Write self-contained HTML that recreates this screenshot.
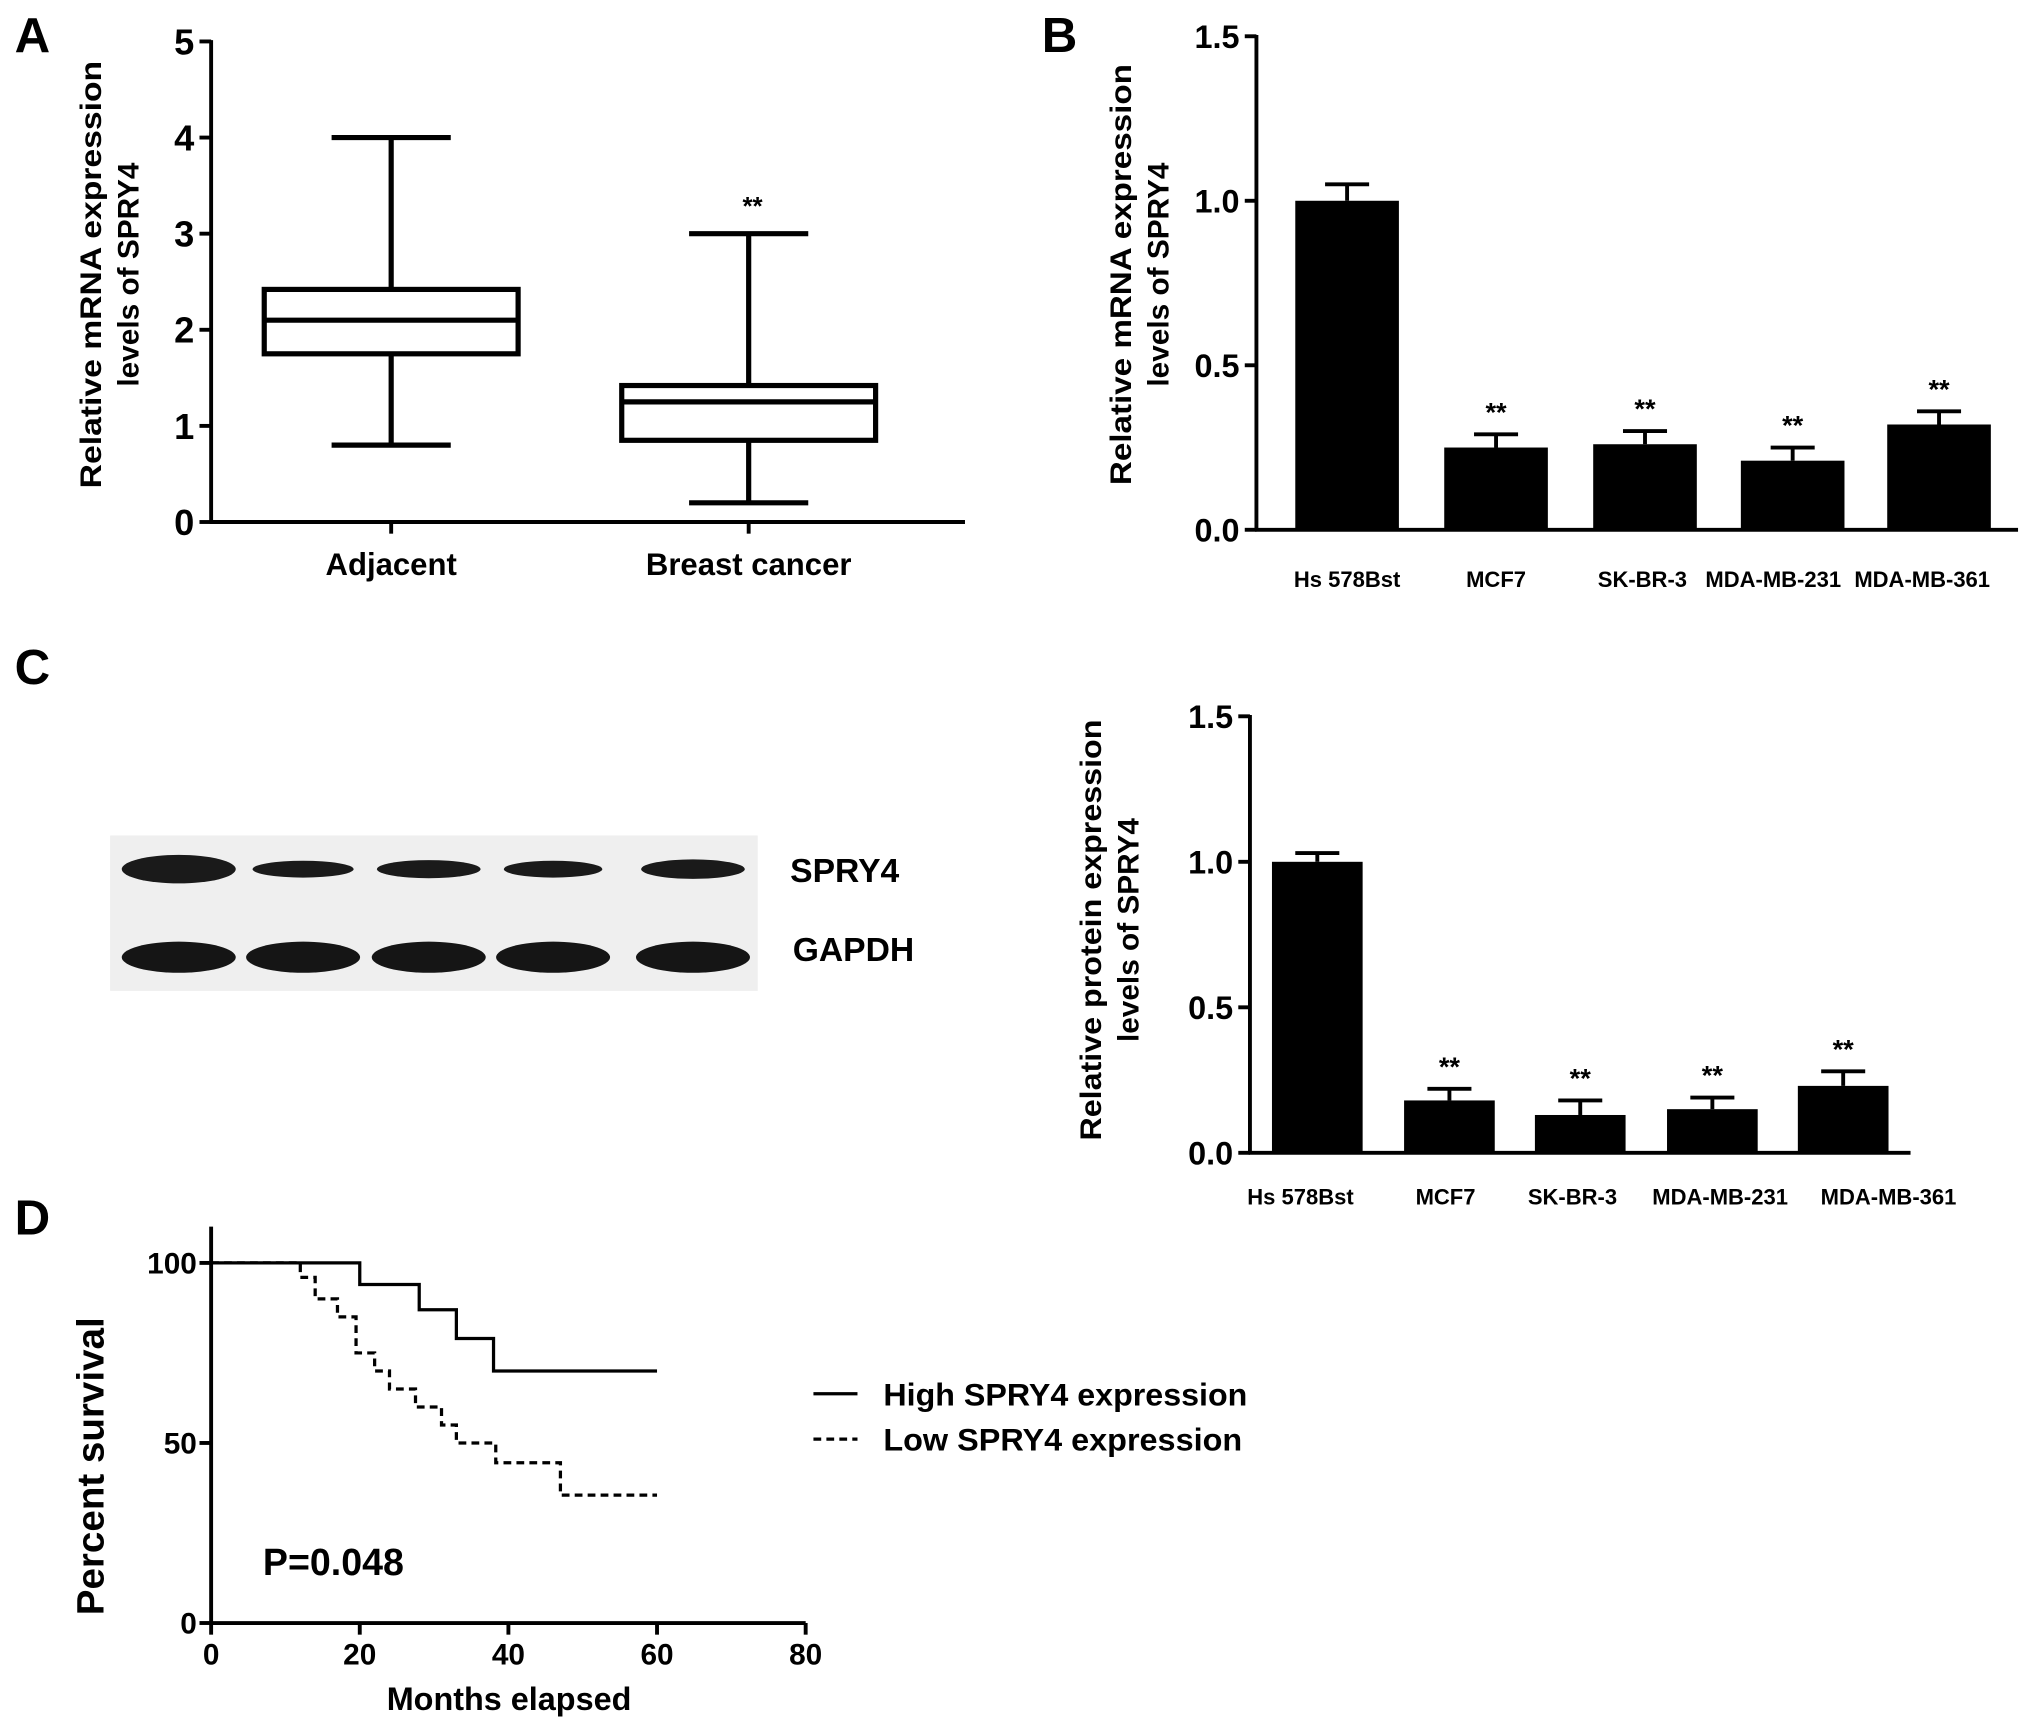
<!DOCTYPE html>
<html><head><meta charset="utf-8"><style>
html,body{margin:0;padding:0;background:#fff;}
svg{display:block;font-family:"Liberation Sans",Arial,sans-serif;font-weight:bold;}
</style></head><body>
<svg id="fig" width="2031" height="1730" viewBox="0 0 1568 1335.6" preserveAspectRatio="none"></svg>
<script>
// ---- Panel A data ----
const boxCats = ["Adjacent", "Breast cancer"];
const boxMin = [0.8, 0.2];
const boxQ1 = [1.75, 0.85];
const boxMed = [2.1, 1.25];
const boxQ3 = [2.42, 1.42];
const boxMax = [4.0, 3.0];
const boxTicks = [0, 1, 2, 3, 4, 5];
// ---- Panel B data ----
const cellLines = ["Hs 578Bst", "MCF7", "SK-BR-3", "MDA-MB-231", "MDA-MB-361"];
const mrnaVals = [1.0, 0.25, 0.26, 0.21, 0.32];
const mrnaErr = [0.05, 0.04, 0.04, 0.04, 0.04];
const barTicks = ["0.0", "0.5", "1.0", "1.5"];
// ---- Panel C data ----
const protVals = [1.0, 0.18, 0.13, 0.15, 0.23];
const protErr = [0.03, 0.04, 0.05, 0.04, 0.05];
// ---- Panel D data ----
const highT = [0, 20, 28, 33, 38, 60];
const highS = [100, 94, 87, 79, 70, 70];
const lowT = [0, 12, 14, 17, 19.5, 22, 24, 27.5, 31, 33, 38.3, 47, 60];
const lowS = [100, 96, 90, 85, 75, 70, 65, 60, 55, 50, 44.5, 35.5, 35.5];
const kmXTicks = [0, 20, 40, 60, 80];
const kmYTicks = [0, 50, 100];

const NS = "http://www.w3.org/2000/svg";
const svg = document.getElementById("fig");
function el(tag, attrs, parent) {
  const e = document.createElementNS(NS, tag);
  for (const k in attrs) e.setAttribute(k, attrs[k]);
  (parent || svg).appendChild(e);
  return e;
}
function txt(s, x, y, size, anchor, parent, rot, len) {
  const t = el("text", {x: x, y: y, "font-size": size, "text-anchor": anchor || "middle", fill: "#000"}, parent);
  if (rot) t.setAttribute("transform", "rotate(-90 " + x + " " + y + ")");
  if (len) { t.setAttribute("textLength", len); t.setAttribute("lengthAdjust", "spacingAndGlyphs"); }
  t.textContent = s;
  return t;
}
function line(x1, y1, x2, y2, w, parent, dash) {
  const l = el("line", {x1: x1, y1: y1, x2: x2, y2: y2, stroke: "#000", "stroke-width": w || 3}, parent);
  if (dash) l.setAttribute("stroke-dasharray", dash);
  return l;
}

[["A", 25, 40], ["B", 818, 40], ["C", 25, 528], ["D", 25, 953]].forEach(p => {
  const t = txt(p[0], p[1], p[2], 38, "middle");
  
  
});

// ===== Panel A =====
(function () {
  const g = el("g", {});
  
  
  const x0 = 163, y0 = 403, yTop = 32, xEnd = 745;
  const ys = v => y0 - (v / 5) * (y0 - yTop);
  const centers = [302, 578];
  line(x0, yTop - 1, x0, y0 + 1, 3, g);
  line(x0 - 1, y0, xEnd, y0, 3, g);
  boxTicks.forEach(v => {
    line(x0 - 9, ys(v), x0, ys(v), 3, g);
    const t = txt(String(v), x0 - 13, ys(v) + 10, 28, "end", g);
    
    
  });
  const yt = el("g", {}, g);
  
  
  txt("Relative mRNA expression", 78, 212, 23, "middle", yt, true, 330);
  txt("levels of SPRY4", 107, 212, 23, "middle", yt, true);
  boxCats.forEach((c, i) => {
    const cx = centers[i], hw = 98, cw = 46;
    const b = el("g", {}, g);
    
    
    line(cx, ys(boxMax[i]), cx, ys(boxQ3[i]), 4, b);
    line(cx, ys(boxQ1[i]), cx, ys(boxMin[i]), 4, b);
    line(cx - cw, ys(boxMax[i]), cx + cw, ys(boxMax[i]), 4, b);
    line(cx - cw, ys(boxMin[i]), cx + cw, ys(boxMin[i]), 4, b);
    el("rect", {x: cx - hw, y: ys(boxQ3[i]), width: 2 * hw, height: ys(boxQ1[i]) - ys(boxQ3[i]), fill: "#fff", stroke: "#000", "stroke-width": 4}, b);
    line(cx - hw, ys(boxMed[i]), cx + hw, ys(boxMed[i]), 4, b);
    line(cx, y0, cx, y0 + 9, 3, g);
    const t = txt(c, cx, 444, 24, "middle", g);
    
    
  });
  const s = txt("**", centers[1] + 3, 166, 20, "middle", g);
  
  
})();

// ===== Bar chart helper =====
function barChart(name, x0, xEnd, y0, yTop, centers, labelCenters, bw, vals, errs, labelY, titleX, titleY, titleLines, labSize) {
  const g = el("g", {});
  
  
  const ys = v => y0 - (v / 1.5) * (y0 - yTop);
  line(x0, yTop - 1, x0, y0 + 1, 3, g);
  line(x0 - 1, y0, xEnd, y0, 3, g);
  barTicks.forEach(s => {
    const v = parseFloat(s);
    line(x0 - 9, ys(v), x0, ys(v), 3, g);
    const t = txt(s, x0 - 13, ys(v) + 9, 25, "end", g);
    
    
  });
  const yt = el("g", {}, g);
  
  
  txt(titleLines[0], titleX, titleY, 23, "middle", yt, true, 325);
  txt(titleLines[1], titleX + 29, titleY, 23, "middle", yt, true);
  cellLines.forEach((c, i) => {
    const cx = centers[i];
    const top = ys(vals[i] + errs[i]);
    line(cx, top, cx, ys(vals[i]), 3, g);
    line(cx - 17, top, cx + 17, top, 3, g);
    const r = el("rect", {x: cx - bw / 2, y: ys(vals[i]), width: bw, height: y0 - ys(vals[i]), fill: "#000"}, g);
    
    
    const t = txt(c, labelCenters[i], labelY, labSize, "middle", g);
    
    
    if (i > 0) {
      const s = txt("**", cx, top - 10, 21, "middle", g);
      
      
    }
  });
}
barChart("panel-b-mrna-bars", 970, 1558, 409, 28, [1040, 1155, 1270, 1384, 1497], [1040, 1155, 1268, 1369, 1484], 80, mrnaVals, mrnaErr, 453, 873, 212, ["Relative mRNA expression", "levels of SPRY4"], 17);
barChart("panel-c-protein-bars", 965, 1475, 890, 553, [1017, 1119, 1220, 1322, 1423], [1004, 1116, 1214, 1328, 1458], 70, protVals, protErr, 930, 850, 718, ["Relative protein expression", "levels of SPRY4"], 17);

// ===== Western blot =====
(function () {
  const g = el("g", {});
  
  
  el("rect", {x: 85, y: 645, width: 500, height: 120, fill: "#efefef"}, g);
  const bx = [138, 234, 331, 427, 535];
  const spryW = [88, 78, 80, 76, 80], spryH = [22, 13, 14, 13, 15];
  bx.forEach((x, i) => {
    el("ellipse", {cx: x, cy: 671, rx: spryW[i] / 2, ry: spryH[i] / 2, fill: "#1a1a1a"}, g);
    el("ellipse", {cx: x, cy: 739, rx: 44, ry: 12, fill: "#151515"}, g);
  });
  txt("SPRY4", 610, 681, 26, "start", g);
  txt("GAPDH", 612, 742, 26, "start", g);
})();

// ===== Panel D: KM =====
(function () {
  const g = el("g", {});
  
  
  const x0 = 163, xMax = 622, y0 = 1253, y100 = 975;
  const xs = t => x0 + (t / 80) * (xMax - x0);
  const ys = v => y0 - (v / 100) * (y0 - y100);
  line(x0, 947, x0, y0 + 1, 3, g);
  line(x0 - 1, y0, xMax, y0, 3, g);
  kmXTicks.forEach(v => {
    line(xs(v), y0, xs(v), y0 + 9, 3, g);
    const t = txt(String(v), xs(v), 1285, 23, "middle", g);
    
    
  });
  kmYTicks.forEach(v => {
    line(x0 - 9, ys(v), x0, ys(v), 3, g);
    const t = txt(String(v), x0 - 11, ys(v) + 8, 23, "end", g);
    
    
  });
  const xt = txt("Months elapsed", 393, 1320, 25, "middle", g);
  
  
  const yt = txt("Percent survival", 80, 1132, 29, "middle", g, true, 230);
  
  
  function steps(T, S) {
    let d = "M" + xs(T[0]) + "," + ys(S[0]);
    for (let i = 1; i < T.length; i++) {
      d += " L" + xs(T[i]) + "," + ys(S[i - 1]) + " L" + xs(T[i]) + "," + ys(S[i]);
    }
    return d;
  }
  const h = el("path", {d: steps(highT, highS), fill: "none", stroke: "#000", "stroke-width": 2.5}, g);
  
  
  const l = el("path", {d: steps(lowT, lowS), fill: "none", stroke: "#000", "stroke-width": 2.5, "stroke-dasharray": "6,4"}, g);
  
  
  const p = txt("P=0.048", 203, 1216, 29, "start", g);
  
  
  const lg = el("g", {}, g);
  
  
  line(628, 1076, 662, 1076, 2.5, lg);
  line(628, 1111, 662, 1111, 2.5, lg, "6,4");
  txt("High SPRY4 expression", 682, 1085, 24, "start", lg, false, 281);
  txt("Low SPRY4 expression", 682, 1120, 24, "start", lg, false, 277);
})();
</script>
</body></html>
